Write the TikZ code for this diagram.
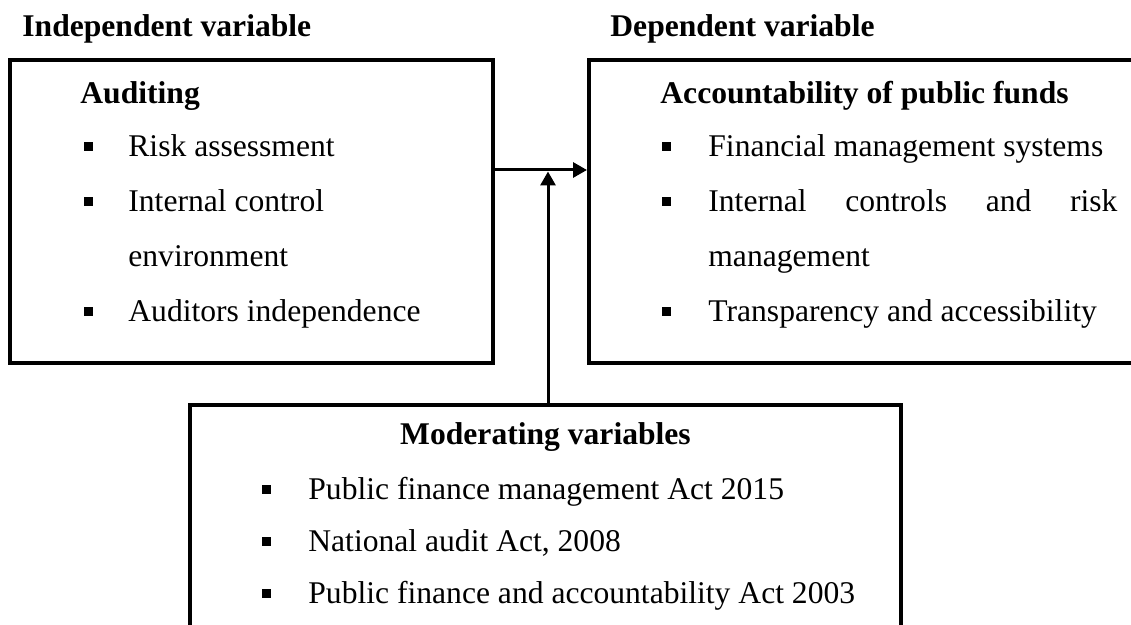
\documentclass[tikz,border=0pt]{standalone}
\usepackage{fontspec}
\setmainfont{Liberation Serif}
\usetikzlibrary{arrows.meta}

\begin{document}
\begin{tikzpicture}[x=0.5pt, y=0.5pt,
    box/.style={draw, line width=2pt, inner sep=0pt},
    txt/.style={inner sep=0pt, anchor=base west, font=\fontsize{15.8}{18}\selectfont},
    head/.style={txt, font=\fontsize{15.8}{18}\selectfont\bfseries},
    bul/.style={fill, inner sep=0pt, minimum size=4.5pt},
    link/.style={line width=1.5pt, -{Triangle[length=7pt, width=7.5pt]}}]
      \useasboundingbox (0,0) rectangle (1131,-625);
      \clip (0,0) rectangle (1131,-625);
      \node [box, minimum width=241.5pt, minimum height=151.5pt] (aud) at (251.5,-211.5) {};
      \node [box, minimum width=275.5pt, minimum height=151.5pt] (acc) at (864.5,-211.5) {};
      \node [box, minimum width=355.5pt, minimum height=122.5pt] (mod) at (545.5,-527.5) {};
      \node [head] (hind) at (22,-37) {Independent variable};
      \node [head] (hdep) at (610,-37) {Dependent variable};
      % independent side
      \node [head] (taud) at (80,-104) {Auditing};
      \node [bul] (a1) at (88,-147) {};
      \node [txt] (ta1) at (128,-157) {Risk assessment};
      \node [bul] (a2) at (88,-202) {};
      \node [txt] (ta2) at (128,-212) {Internal control};
      \node [txt] (ta3) at (128,-267) {environment};
      \node [bul] (a4) at (88,-312) {};
      \node [txt] (ta4) at (128,-322) {Auditors independence};
      % dependent side
      \node [head] (tacc) at (660,-104) {Accountability of public funds};
      \node [bul] (c1) at (666,-147) {};
      \node [txt] (tc1) at (708,-157) {Financial management systems};
      \node [bul] (c2) at (666,-202) {};
      \node [txt] (tc2) at (708,-212) {\makebox[204.5pt][s]{Internal controls and risk}};
      \node [txt] (tc3) at (708,-267) {management};
      \node [bul] (c4) at (666,-312) {};
      \node [txt] (tc4) at (708,-322) {Transparency and accessibility};
      % moderating
      \node [head, anchor=base] (tmod) at (545.5,-445) {Moderating variables};
      \node [bul] (m1) at (266,-490) {};
      \node [txt] (tm1) at (308,-500) {Public finance management Act 2015};
      \node [bul] (m2) at (266,-542) {};
      \node [txt] (tm2) at (308,-552) {National audit Act, 2008};
      \node [bul] (m3) at (266,-594) {};
      \node [txt] (tm3) at (308,-604) {Public finance and accountability Act 2003};
      \coordinate (J) at (548,-170);
      \draw [link] (aud.east |- J) to (acc.west |- J);
      \draw [link, shorten >=0.75pt] (mod.north -| J) to (J);
    \end{tikzpicture}
\end{document}
